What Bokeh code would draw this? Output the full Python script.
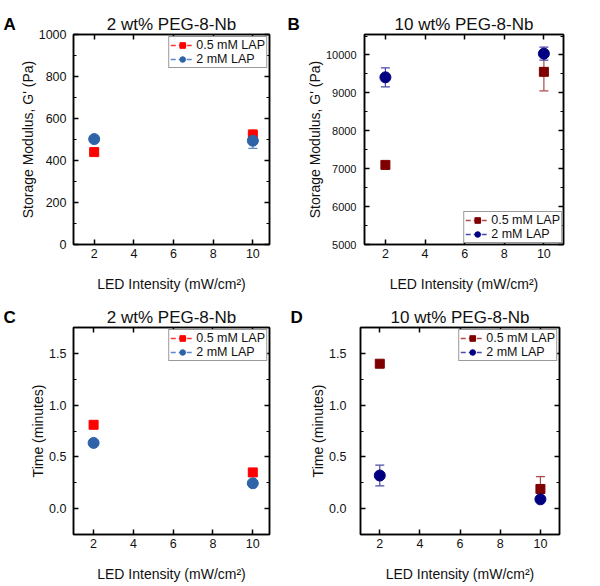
import math
from bokeh.plotting import figure
from bokeh.layouts import row, column
from bokeh.models import (ColumnDataSource, Whisker, TeeHead, Legend, LegendItem,
                          LinearAxis, SingleIntervalTicker, CustomJSTickFormatter,
                          NumeralTickFormatter, Range1d)
from bokeh.embed import file_html
from bokeh.resources import INLINE

# ---------------- data ----------------
led_intensity = [2, 10]
series_labels = ["0.5 mM LAP", "2 mM LAP"]
x_label = "LED Intensity (mW/cm²)"
panel_letters = ["A", "B", "C", "D"]
panel_titles = ["2 wt% PEG-8-Nb", "10 wt% PEG-8-Nb", "2 wt% PEG-8-Nb", "10 wt% PEG-8-Nb"]

# Panel A: 2 wt% storage modulus (Pa)
a_lap05 = [440, 522]
a_lap05_err = [12, 24]
a_lap2 = [502, 494]
a_lap2_err = [8, 36]

# Panel B: 10 wt% storage modulus (Pa)
b_lap05 = [7100, 9555]
b_lap05_err = [60, 500]
b_lap2 = [9410, 10035]
b_lap2_err = [250, 170]

# Panel C: 2 wt% gel time (min)
c_lap05 = [0.81, 0.35]
c_lap05_err = [0.02, 0.02]
c_lap2 = [0.635, 0.245]
c_lap2_err = [0.015, 0.015]

# Panel D: 10 wt% gel time (min)
d_lap05 = [1.40, 0.19]
d_lap05_err = [0.03, 0.12]
d_lap2 = [0.32, 0.09]
d_lap2_err = [0.10, 0.02]

FONT = "Liberation Sans"
TXT = "#111111"


def style_axis(ax, tick_font="12.5px", show_labels=True):
    ax.axis_line_color = "black"
    ax.axis_line_width = 1.5
    ax.major_tick_in = 5
    ax.major_tick_out = 0
    ax.minor_tick_in = 3
    ax.minor_tick_out = 0
    ax.major_tick_line_width = 1.5
    ax.minor_tick_line_width = 1.2
    ax.major_tick_line_color = "black"
    ax.minor_tick_line_color = "black"
    ax.major_label_text_font = FONT
    ax.major_label_text_font_size = tick_font
    ax.major_label_text_color = TXT
    ax.axis_label_text_font = FONT
    ax.axis_label_text_font_size = "14px"
    ax.axis_label_text_font_style = "normal"
    ax.axis_label_text_color = TXT
    if not show_labels:
        ax.formatter = CustomJSTickFormatter(code="return ''")
        ax.major_label_standoff = 0
        ax.axis_label_standoff = 0


def letter_fig(letter, width, height, offset):
    p = figure(width=width, height=height, output_backend="svg",
               toolbar_location=None, x_axis_type=None, y_axis_type=None,
               title=letter, min_border_left=0, min_border_right=0,
               min_border_top=26, min_border_bottom=0)
    p.title.text_font = FONT
    p.title.text_font_size = "17px"
    p.title.text_font_style = "bold"
    p.title.text_color = "black"
    p.title.align = "left"
    p.title.vertical_align = "middle"
    p.title.offset = offset
    p.title.standoff = 0
    p.outline_line_color = None
    p.grid.visible = False
    return p


def panel(title, ylab, y_range, y_interval, y_fmt, y_tick_font, y_standoff, x_range,
          s05, e05, s2, e2, c05, c05e, c2, c2e, width, height, borders,
          legend_loc, legend_margin):
    p = figure(width=width, height=height, output_backend="svg",
               toolbar_location=None, x_range=Range1d(*x_range),
               y_range=Range1d(*y_range), title=title,
               min_border_left=borders[0], min_border_right=borders[1],
               min_border_top=borders[2], min_border_bottom=borders[3])
    p.title.align = "center"
    p.title.text_font = FONT
    p.title.text_font_size = "17px"
    p.title.text_font_style = "normal"
    p.title.text_color = TXT
    p.title.standoff = 1
    p.grid.visible = False
    p.outline_line_color = "black"
    p.outline_line_width = 1.5
    p.background_fill_color = "white"
    p.border_fill_color = "white"

    p.xaxis.ticker = SingleIntervalTicker(interval=2, num_minor_ticks=0)
    p.yaxis.ticker = SingleIntervalTicker(interval=y_interval, num_minor_ticks=2)
    if y_fmt:
        p.yaxis.formatter = NumeralTickFormatter(format=y_fmt)
    p.xaxis.axis_label = x_label
    p.yaxis.axis_label = ylab
    for ax in p.xaxis:
        style_axis(ax, "12.5px")
    for ax in p.yaxis:
        style_axis(ax, y_tick_font)
    p.xaxis.major_label_standoff = 4
    p.yaxis.major_label_standoff = y_standoff
    p.xaxis.axis_label_standoff = 15
    p.yaxis.axis_label_standoff = 0

    top = LinearAxis(ticker=SingleIntervalTicker(interval=2, num_minor_ticks=0))
    right = LinearAxis(ticker=SingleIntervalTicker(interval=y_interval, num_minor_ticks=2))
    style_axis(top, show_labels=False)
    style_axis(right, show_labels=False)
    p.add_layout(top, "above")
    p.add_layout(right, "right")

    items = []
    for vals, errs, col, ecol, marker, size, lab in (
            (s05, e05, c05, c05e, "square", 9, series_labels[0]),
            (s2, e2, c2, c2e, "circle", 11, series_labels[1])):
        src = ColumnDataSource(dict(
            x=led_intensity, y=vals,
            lo=[v - e for v, e in zip(vals, errs)],
            hi=[v + e for v, e in zip(vals, errs)]))
        w = Whisker(source=src, base="x", lower="lo", upper="hi",
                    line_color=ecol, line_width=1.2,
                    upper_head=TeeHead(size=9, line_color=ecol, line_width=1.2),
                    lower_head=TeeHead(size=9, line_color=ecol, line_width=1.2))
        p.add_layout(w)
        r = p.scatter("x", "y", source=src, marker=marker, size=size,
                      fill_color=col, line_color=col)
        lr = p.line(x=[math.nan], y=[math.nan], line_color=ecol,
                    line_width=1.5, line_dash="5 3")
        items.append(LegendItem(label=lab, renderers=[lr, r]))

    leg = Legend(items=items, location=legend_loc)
    leg.margin = legend_margin
    leg.padding = 1
    leg.spacing = 0
    leg.label_text_font = FONT
    leg.label_text_font_size = "12.5px"
    leg.label_text_color = TXT
    leg.label_height = 14
    leg.glyph_height = 14
    leg.glyph_width = 24
    leg.label_standoff = 2
    leg.border_line_color = "#333333"
    leg.border_line_width = 1.2
    leg.background_fill_alpha = 1
    p.add_layout(leg)
    return p


RED, RED_E = "#ff0000", "#ff3030"
BLUE, BLUE_E = "#2f63a8", "#5a88c8"
DRED, DRED_E = "#7f0000", "#b04848"
NAVY, NAVY_E = "#000080", "#4a4aa8"

LW1, PW1, LW2, PW2 = 16, 271, 16, 291
H1, H2 = 294, 290

la = letter_fig(panel_letters[0], LW1, H1, 3)
lb = letter_fig(panel_letters[1], LW2, H1, 0)
lc = letter_fig(panel_letters[2], LW1, H2, 3)
ld = letter_fig(panel_letters[3], LW2, H2, 3)

pa = panel(panel_titles[0], "Storage Modulus, G' (Pa)", (0, 1000), 200, None, "12.5px", 7,
           (0.956, 10.84), a_lap05, a_lap05_err, a_lap2, a_lap2_err,
           RED, RED_E, BLUE, BLUE_E, PW1, H1, (57, 18, 34, 47), "top_right", 2)
pb = panel(panel_titles[1], "Storage Modulus, G' (Pa)", (5000, 10540), 1000, None, "11px", 8,
           (0.945, 10.99), b_lap05, b_lap05_err, b_lap2, b_lap2_err,
           DRED, DRED_E, NAVY, NAVY_E, PW2, H1, (60, 31, 33, 49), "bottom_right", 1)
pc = panel(panel_titles[2], "Time (minutes)", (-0.25, 1.75), 0.5, "0.0", "12.5px", 7,
           (0.99, 10.84), c_lap05, c_lap05_err, c_lap2, c_lap2_err,
           RED, RED_E, BLUE, BLUE_E, PW1, H2, (57, 18, 33, 47), "top_right", 2)
pd_ = panel(panel_titles[3], "Time (minutes)", (-0.25, 1.75), 0.5, "0.0", "12.5px", 14,
            (1.04, 10.95), d_lap05, d_lap05_err, d_lap2, d_lap2_err,
            DRED, DRED_E, NAVY, NAVY_E, PW2, H2, (57, 35, 33, 47), "top_right", 2)

layout = column(row(la, pa, lb, pb), row(lc, pc, ld, pd_))

open("out.html", "w").write(file_html(layout, INLINE))
